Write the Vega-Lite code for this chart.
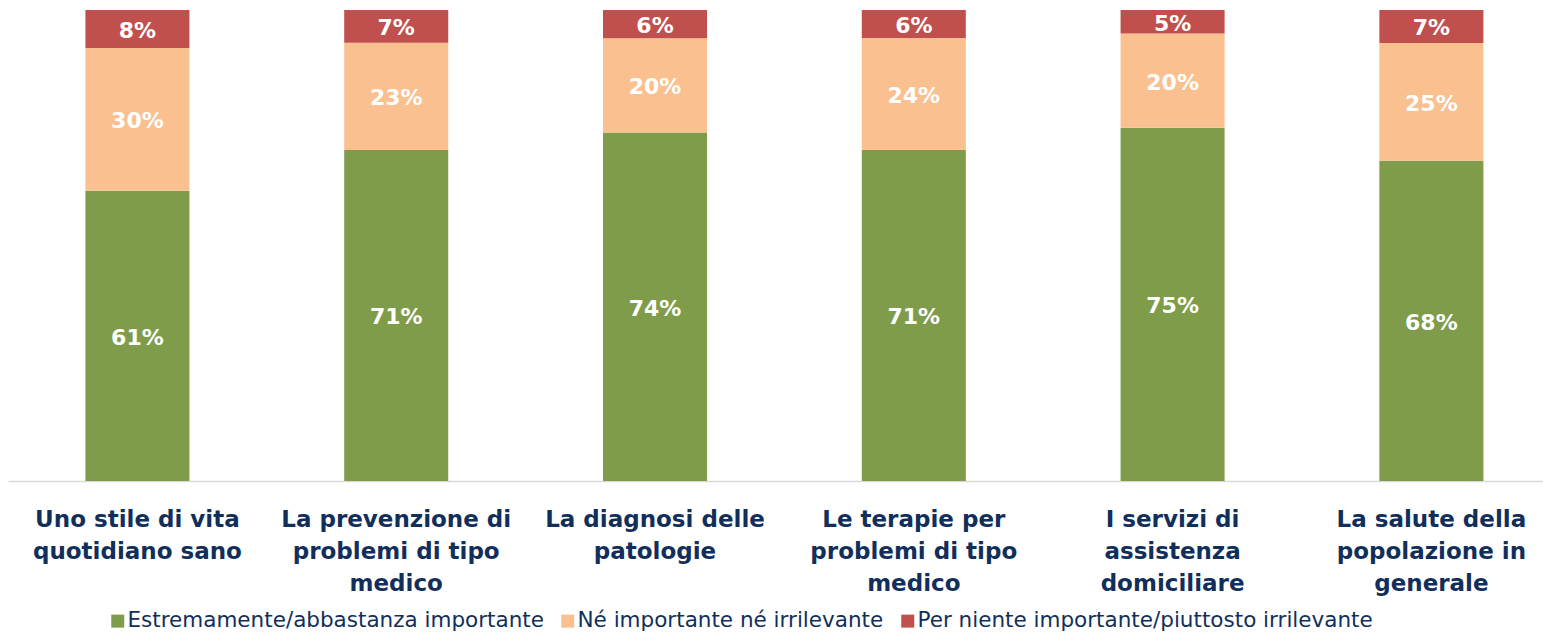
{
  "$schema": "https://vega.github.io/schema/vega-lite/v6.json",
  "width": 1535,
  "height": 471,
  "autosize": {"type": "none"},
  "padding": {"left": 8, "top": 10, "right": 0, "bottom": 152},
  "background": "white",
  "config": {"view": {"stroke": null}, "font": "DejaVu Sans"},
  "data": {
    "values": [
      {"cat": "Uno stile di vita quotidiano sano", "serie": "Estremamente/abbastanza importante", "ord": 1, "value": 0.61},
      {"cat": "Uno stile di vita quotidiano sano", "serie": "Né importante né irrilevante", "ord": 2, "value": 0.30},
      {"cat": "Uno stile di vita quotidiano sano", "serie": "Per niente importante/piuttosto irrilevante", "ord": 3, "value": 0.08},
      {"cat": "La prevenzione di problemi di tipo medico", "serie": "Estremamente/abbastanza importante", "ord": 1, "value": 0.71},
      {"cat": "La prevenzione di problemi di tipo medico", "serie": "Né importante né irrilevante", "ord": 2, "value": 0.23},
      {"cat": "La prevenzione di problemi di tipo medico", "serie": "Per niente importante/piuttosto irrilevante", "ord": 3, "value": 0.07},
      {"cat": "La diagnosi delle patologie", "serie": "Estremamente/abbastanza importante", "ord": 1, "value": 0.74},
      {"cat": "La diagnosi delle patologie", "serie": "Né importante né irrilevante", "ord": 2, "value": 0.20},
      {"cat": "La diagnosi delle patologie", "serie": "Per niente importante/piuttosto irrilevante", "ord": 3, "value": 0.06},
      {"cat": "Le terapie per problemi di tipo medico", "serie": "Estremamente/abbastanza importante", "ord": 1, "value": 0.71},
      {"cat": "Le terapie per problemi di tipo medico", "serie": "Né importante né irrilevante", "ord": 2, "value": 0.24},
      {"cat": "Le terapie per problemi di tipo medico", "serie": "Per niente importante/piuttosto irrilevante", "ord": 3, "value": 0.06},
      {"cat": "I servizi di assistenza domiciliare", "serie": "Estremamente/abbastanza importante", "ord": 1, "value": 0.75},
      {"cat": "I servizi di assistenza domiciliare", "serie": "Né importante né irrilevante", "ord": 2, "value": 0.20},
      {"cat": "I servizi di assistenza domiciliare", "serie": "Per niente importante/piuttosto irrilevante", "ord": 3, "value": 0.05},
      {"cat": "La salute della popolazione in generale", "serie": "Estremamente/abbastanza importante", "ord": 1, "value": 0.68},
      {"cat": "La salute della popolazione in generale", "serie": "Né importante né irrilevante", "ord": 2, "value": 0.25},
      {"cat": "La salute della popolazione in generale", "serie": "Per niente importante/piuttosto irrilevante", "ord": 3, "value": 0.07}
    ]
  },
  "transform": [
    {"stack": "value", "groupby": ["cat"], "sort": [{"field": "ord", "order": "ascending"}], "offset": "normalize", "as": ["y0", "y1"]},
    {"calculate": "(datum.y0 + datum.y1) / 2", "as": "ymid"}
  ],
  "encoding": {
    "x": {
      "field": "cat",
      "type": "nominal",
      "sort": null,
      "scale": {"paddingInner": 0.598, "paddingOuter": 0.2647, "align": 0.565},
      "axis": {
        "title": null,
        "labelAngle": 0,
        "ticks": false,
        "domainColor": "#D9D9D9",
        "domainWidth": 1.5,
        "labelFont": "DejaVu Sans",
        "labelFontSize": 23,
        "labelFontWeight": "bold",
        "labelColor": "#112F5A",
        "labelPadding": 27,
        "labelLineHeight": 32,
        "labelLimit": 0,
        "labelOverlap": false,
        "labelBound": false,
        "labelFlush": false,
        "labelExpr": "datum.label == 'Uno stile di vita quotidiano sano' ? ['Uno stile di vita', 'quotidiano sano'] : datum.label == 'La prevenzione di problemi di tipo medico' ? ['La prevenzione di', 'problemi di tipo', 'medico'] : datum.label == 'La diagnosi delle patologie' ? ['La diagnosi delle', 'patologie'] : datum.label == 'Le terapie per problemi di tipo medico' ? ['Le terapie per', 'problemi di tipo', 'medico'] : datum.label == 'I servizi di assistenza domiciliare' ? ['I servizi di', 'assistenza', 'domiciliare'] : ['La salute della', 'popolazione in', 'generale']"
      }
    }
  },
  "layer": [
    {
      "mark": {"type": "bar"},
      "encoding": {
        "y": {"field": "y0", "type": "quantitative", "scale": {"domain": [0, 1], "nice": false}, "axis": null},
        "y2": {"field": "y1"},
        "color": {
          "field": "serie",
          "type": "nominal",
          "scale": {
            "domain": ["Estremamente/abbastanza importante", "Né importante né irrilevante", "Per niente importante/piuttosto irrilevante"],
            "range": ["#7F9C4A", "#FAC090", "#C0504D"]
          },
          "legend": {
            "orient": "none",
            "legendX": 99,
            "legendY": 600,
            "direction": "horizontal",
            "columns": 3,
            "title": null,
            "padding": 0,
            "symbolType": "square",
            "symbolSize": 169,
            "symbolStrokeWidth": 0,
            "labelFont": "DejaVu Sans",
            "labelFontSize": 21.5,
            "labelColor": "#112F5A",
            "labelOffset": -1,
            "labelLimit": 0,
            "columnPadding": 13
          }
        }
      }
    },
    {
      "mark": {"type": "text", "color": "white", "fontWeight": "bold", "fontSize": 22, "font": "DejaVu Sans", "baseline": "middle", "dy": 2},
      "encoding": {
        "y": {"field": "ymid", "type": "quantitative"},
        "text": {"field": "value", "type": "quantitative", "format": ".0%"}
      }
    }
  ]
}
